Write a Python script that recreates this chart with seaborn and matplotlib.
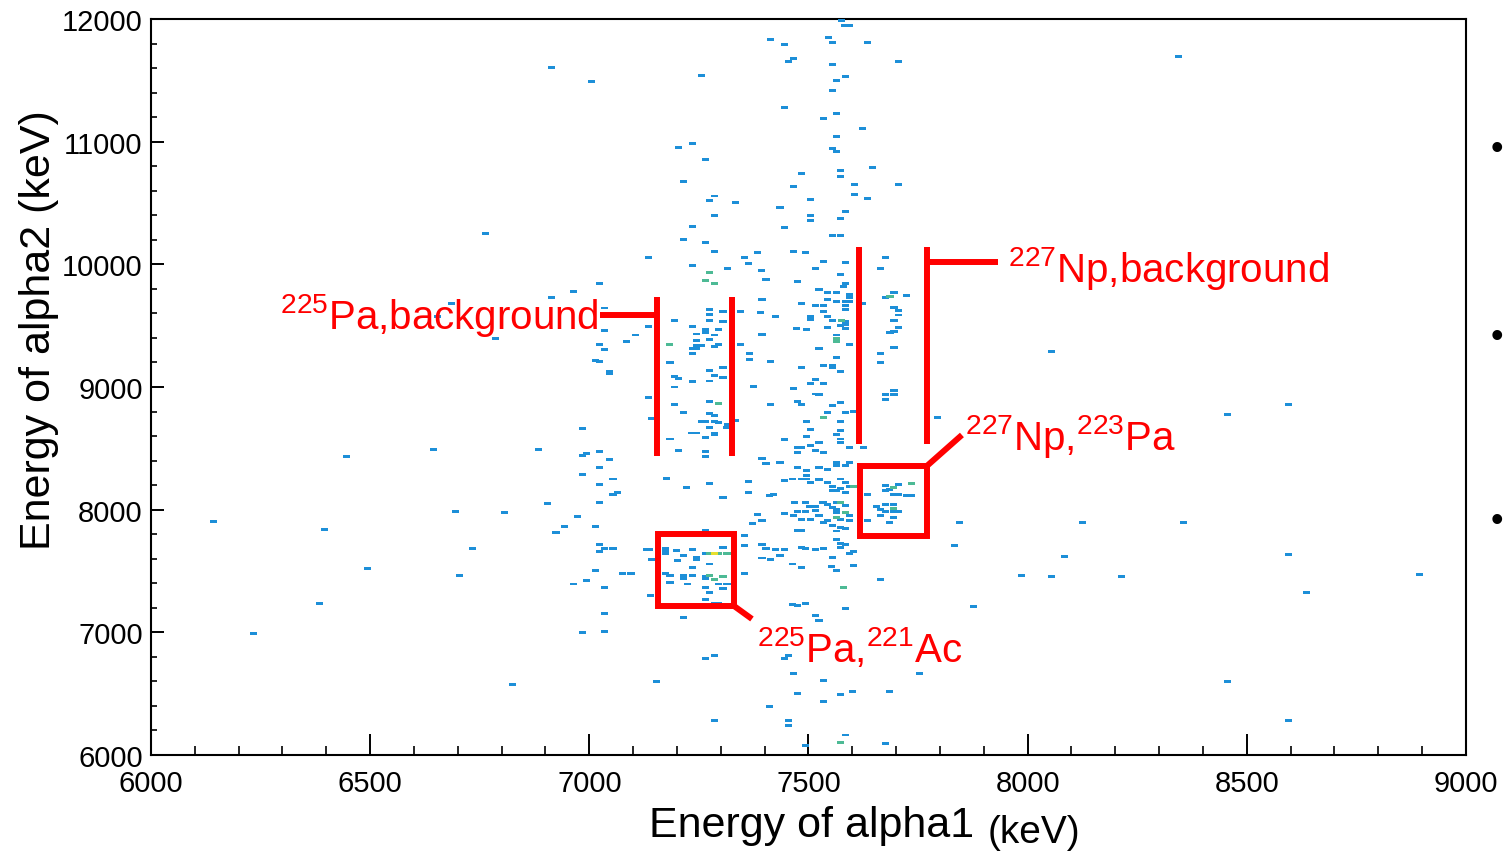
import numpy as np
import pandas as pd
import matplotlib
matplotlib.use("Agg")
import matplotlib.pyplot as plt
from matplotlib.ticker import MultipleLocator
from matplotlib.markers import MarkerStyle
from matplotlib.patches import Rectangle
import seaborn as sns

# ---------------- data: occupied histogram cells (keV) ----------------
# cells with one event (alpha1 energy, alpha2 energy)
one_e1 = [
    7575, 7583, 7594, 7414, 7445, 7545, 7555, 7634, 6914, 7004, 7255, 7455, 7465, 7555, 7705, 7564,
    7584, 7555, 7445, 7534, 7564, 7623, 7564, 7555, 7564, 7204, 7235, 7264, 7646, 7574, 7574, 7485,
    7215, 7465, 7604, 7705, 7604, 7634, 7285, 7274, 7334, 7505, 7435, 7584, 7285, 7505, 7505, 7574,
    7235, 7445, 7215, 7264, 7555, 7574, 7285, 7384, 7465, 7494, 7134, 7354, 7364, 7675, 7534, 7584,
    7235, 7315, 7515, 7665,
    6764, 6686, 6653, 6785, 6914,
    7024, 7045, 7024, 6984, 7024, 7054, 7065, 7054, 6984, 6994, 6984, 7045, 7045, 7014, 7024, 7024,
    7035, 7035, 7035, 7024, 6963, 7085, 7105, 7134, 7134, 7143, 7184, 7194, 7203, 7194, 7194, 7214,
    7184, 7203, 7264, 7264, 7275, 7275, 7285, 7264, 7255, 7285, 7295, 7315, 7334, 7313, 7275, 7285,
    7285, 7264, 7244, 7234, 7285, 7305, 7275, 7235, 7275, 7305, 7374, 7365, 7365, 7344, 7394, 7413,
    7425, 7391, 7394, 7344, 7305, 7275, 7275, 7275, 7305, 7194, 7235, 7264, 7264, 7295, 7285, 7245,
    7245, 7275, 7285, 7295, 7245, 7256, 7235, 7245, 7235, 7393, 7403, 7475, 7574, 7584, 7579, 7524,
    7544, 7564, 7594, 7594, 7544, 7584, 7564, 7594, 7584, 7584, 7484, 7515, 7534, 7534, 7544, 7554,
    7584, 7505, 7505, 7623, 7544, 7574, 7584, 7584, 7564, 7473, 7495, 7524, 7594, 7564, 7534, 7554,
    7554, 7574, 7485, 7665, 7665, 7675, 7695, 7695, 7705, 7705, 7695, 7705, 7695, 7686, 7724, 7695,
    7675, 7695, 7675, 7695, 7794, 7603, 7584, 7574, 7555, 7574, 7574, 7574, 7564, 7544, 7515, 7524,
    7534, 7505, 7515, 7475, 7485, 7465, 7413, 7495, 7505, 7495, 7445, 7475, 7485, 7505, 7515, 7534,
    7524, 7475, 7394, 7403, 7435, 7475, 7495, 7495, 7524, 7544, 7564, 7564, 7584, 7594, 7463, 7485,
    7495, 7505, 7524, 7544, 7554, 7574, 7584, 7574, 7584, 7594, 7564, 7554, 7445, 7364, 7364, 7410,
    7420, 7305, 7275, 7222, 7175, 7594, 7574, 7625,
    7024, 7469, 7494, 7564, 7564, 7533, 7544, 7554, 7564, 7584, 7503, 7515, 7515, 7494, 7475, 7465,
    7445, 7485, 7505, 7524, 7534, 7544, 7554, 7574, 7594, 7594, 7584, 7564, 7574, 7485, 7564, 7574,
    7574, 7584, 7554, 7594, 7603, 7553, 7564, 7603, 7463, 7485, 7494, 7515, 7534, 7483, 7424, 7445,
    7435, 7413, 7394, 7394, 7403, 7355, 7355, 7355, 7384, 7373, 7394, 7474,
    7173, 7173, 7173, 7199, 7214, 7235, 7244, 7244, 7264, 7305, 7202, 7275, 7235, 7173, 7184, 7214,
    7214, 7235, 7264, 7264, 7184, 7224, 7264, 7295, 7314, 7305, 7275, 7264, 7295, 7285,
    7138, 7143, 7140, 7130, 7035, 7054, 7024, 7024, 7014, 6994, 6963, 7035, 7075, 7095, 6973, 7014,
    6943, 6924, 7035, 7035, 6984, 7214, 7264, 7463, 7474, 7494, 7515, 7524, 7584, 7665, 7264, 7285,
    7445, 7454, 7465, 7534, 7475, 7534, 7574, 7601, 7685, 7754, 7412, 7154, 7285, 7454, 7454, 7584,
    7675, 7494,
    7675, 7685, 7705, 7675, 7694, 7705, 7724, 7734, 7634, 7655, 7665, 7675, 7705, 7665, 7694, 7685,
    7634, 7675, 7694, 7694,
    6143, 6234, 6385, 6395, 6445, 6494, 6644, 6695, 6704, 6733, 6806, 6825, 6885, 6904, 6924,
    8345, 8054, 8455, 8595, 7844, 7833, 8126, 8355, 8085, 7985, 8054, 8215, 8595, 8636, 8894, 7876,
    8455, 8595,
]
one_e2 = [
    11990, 11945, 11950, 11829, 11789, 11847, 11809, 11809, 11608, 11490, 11540, 11657, 11678, 11630, 11657, 11500,
    11530, 11418, 11276, 11187, 11228, 11108, 11046, 10948, 10918, 10956, 10989, 10856, 10788, 10766, 10717, 10739,
    10679, 10638, 10649, 10649, 10567, 10535, 10557, 10519, 10508, 10530, 10465, 10427, 10399, 10399, 10358, 10377,
    10306, 10298, 10206, 10176, 10236, 10236, 10105, 10095, 10105, 10095, 10058, 10058, 10006, 10058, 10025, 10017,
    9987, 9968, 9968, 9968,
    10248, 9677, 9576, 9397, 9729,
    8476, 8408, 8345, 8283, 8207, 8250, 8142, 8123, 8438, 8454, 8663, 9125, 9106, 9215, 9209, 9345,
    9304, 9457, 9644, 9840, 9777, 9370, 9424, 9497, 8916, 8745, 9196, 9087, 9068, 9000, 8856, 8796,
    8576, 8484, 8478, 8435, 8883, 8780, 8766, 8720, 8720, 8720, 8712, 8698, 8726, 8671, 8669, 8625,
    8612, 8585, 8625, 8625, 9093, 9074, 9049, 9046, 9133, 9155, 9008, 9275, 9228, 9345, 9427, 9209,
    9573, 9609, 9717, 9617, 9617, 9628, 9595, 9546, 9535, 9546, 9495, 9467, 9446, 9467, 9424, 9432,
    9378, 9391, 9334, 9345, 9337, 9337, 9310, 9310, 9277, 9946, 9875, 9859, 9919, 9845, 9818, 9793,
    9772, 9772, 9758, 9726, 9717, 9698, 9698, 9698, 9663, 9628, 9677, 9666, 9663, 9614, 9573, 9546,
    9533, 9573, 9554, 9677, 9486, 9500, 9511, 9478, 9424, 9478, 9467, 9310, 9345, 9239, 9174, 9174,
    9155, 9128, 9158, 9275, 9199, 9726, 9769, 9647, 9620, 9587, 9546, 9486, 9454, 9446, 9745, 9323,
    8938, 8938, 8897, 8973, 8753, 8802, 8794, 8875, 8848, 8718, 8644, 8576, 8614, 8794, 8943, 8938,
    9025, 9030, 9065, 8883, 8856, 8984, 8856, 8715, 8655, 8595, 8574, 8508, 8508, 8522, 8484, 8465,
    8546, 8465, 8421, 8378, 8386, 8340, 8318, 8277, 8340, 8326, 8386, 8359, 8359, 8386, 8250, 8250,
    8250, 8223, 8242, 8223, 8188, 8250, 8223, 8169, 8142, 8188, 8155, 8155, 8237, 8231, 8142, 8114,
    8123, 8101, 8215, 8182, 8253, 8506, 8549, 8506,
    8057, 8059, 8059, 8059, 7978, 8059, 8046, 8019, 8005, 8032, 8024, 8027, 7991, 7989, 7989, 7951,
    7972, 7923, 7923, 7951, 7896, 7913, 7874, 7923, 7951, 7910, 7850, 7826, 7853, 7828, 7760, 7728,
    7693, 7714, 7611, 7646, 7660, 7538, 7502, 7543, 7557, 7527, 7684, 7673, 7684, 7693, 7679, 7679,
    7625, 7597, 7606, 7714, 7684, 7793, 7706, 7483, 7961, 7888, 7915, 7828,
    7687, 7665, 7646, 7671, 7630, 7679, 7611, 7592, 7646, 7690, 7584, 7557, 7529, 7483, 7462, 7462,
    7440, 7462, 7453, 7440, 7407, 7394, 7366, 7394, 7394, 7358, 7326, 7271, 7239, 7239,
    7673, 7597, 7304, 7679, 7684, 7684, 7714, 7657, 7502, 7426, 7394, 7364, 7483, 7483, 7945, 7864,
    7864, 7815, 7155, 7010, 7002, 7122, 7834, 7225, 7217, 7233, 7141, 7095, 7195, 7434, 6790, 6810,
    6790, 6810, 6663, 6606, 6505, 6435, 6492, 6519, 6519, 6663, 6394, 6603, 6282, 6280, 6244, 6163,
    6090, 6076,
    8195, 8168, 8209, 8154, 8122, 8122, 8114, 8114, 8122, 8024, 8005, 7989, 7989, 7956, 7937, 7896,
    7915, 8046, 8046, 7989,
    7902, 6992, 7239, 7842, 8435, 7524, 8492, 7986, 7462, 7685, 7973, 6574, 8492, 8052, 7812,
    11693, 9290, 8777, 8855, 7897, 7705, 7897, 7897, 7617, 7467, 7459, 7459, 7635, 7328, 7474, 7212,
    6598, 6285,
]
# cells with two events
two_e1 = [7275, 7264, 7285, 7182, 7575, 7564, 7564, 7686, 7534, 7295, 7603,
          7275, 7295, 7314, 7275, 7285, 7305, 7564, 7584, 7574, 7580, 7574,
          7734, 7694, 7694]
two_e2 = [9935, 9867, 9840, 9345, 9546, 9397, 9370, 9736, 8753, 8867, 8188,
          7646, 7646, 7644, 7462, 7429, 7459, 7937, 7978, 8059, 7366, 6103,
          8214, 8178, 8010]
# cells with three events
three_e1 = [7285]
three_e2 = [7646]

count_colors = {1: "#1d8fd8", 2: "#4dba95", 3: "#e6df2e"}

df = pd.DataFrame({
    "alpha1": one_e1 + two_e1 + three_e1,
    "alpha2": one_e2 + two_e2 + three_e2,
    "counts": [1] * len(one_e1) + [2] * len(two_e1) + [3] * len(three_e1),
})

# ---------------- styling ----------------
sns.set_theme(style="white")
plt.rcParams["font.family"] = ["Liberation Sans", "DejaVu Sans"]
plt.rcParams["mathtext.fontset"] = "custom"
plt.rcParams["mathtext.rm"] = "Liberation Sans"
plt.rcParams["mathtext.it"] = "Liberation Sans"
plt.rcParams["mathtext.default"] = "regular"

fig = plt.figure(figsize=(15.04, 8.53), dpi=100)
fig.patch.set_facecolor("white")
ax = fig.add_axes([151 / 1504, 1 - 756 / 853, 1315 / 1504, 736 / 853])

dash = MarkerStyle([(-1, -0.42), (1, -0.42), (1, 0.42), (-1, 0.42), (-1, -0.42)])
sns.scatterplot(data=df, x="alpha1", y="alpha2", hue="counts", palette=count_colors,
                marker=dash, s=26, linewidth=0, legend=False, ax=ax, zorder=3)

ax.set_xlim(6000, 9000)
ax.set_ylim(6000, 12000)
ax.xaxis.set_major_locator(MultipleLocator(500))
ax.xaxis.set_minor_locator(MultipleLocator(100))
ax.yaxis.set_major_locator(MultipleLocator(1000))
ax.yaxis.set_minor_locator(MultipleLocator(200))
ax.tick_params(axis="x", which="major", direction="in", length=15, width=1.4,
               labelsize=21, pad=10, colors="black", bottom=True, top=False)
ax.tick_params(axis="x", which="minor", direction="in", length=6.5, width=1.4,
               bottom=True, top=False)
ax.tick_params(axis="y", which="major", direction="in", length=9, width=1.4,
               labelsize=21, pad=6, colors="black", left=True, right=False)
ax.tick_params(axis="y", which="minor", direction="in", length=4.5, width=1.4,
               left=True, right=False)
for sp in ax.spines.values():
    sp.set_visible(True)
    sp.set_color("black")
    sp.set_linewidth(1.5)
ax.grid(False)

ax.set_xlabel("Energy of alpha1", fontsize=31, va="center", color="black")
ax.xaxis.set_label_coords((812 - 151) / 1315, (756 - 826) / 736)
ax.text((1034 - 151) / 1315, (756 - 833) / 736, "(keV)", fontsize=28,
        ha="center", va="center", transform=ax.transAxes, color="black")
ax.set_ylabel("Energy of alpha2 (keV)", fontsize=31, va="center", color="black")
ax.yaxis.set_label_coords((39 - 151) / 1315, (756 - 330) / 736)

# ---------------- red annotations ----------------
red = "#ff0000"
lw = 4.3
# 225Pa gate lines + label
for xg in (7154, 7325):
    ax.plot([xg, xg], [8437, 9734], color=red, lw=lw, solid_capstyle="butt", zorder=5)
ax.plot([7024, 7154], [9587, 9587], color=red, lw=lw, solid_capstyle="butt", zorder=5)
ax.text(7022, 9481, r"$^{225}$Pa,background", color=red, fontsize=29,
        ha="right", va="baseline", zorder=6)
# 227Np gate lines + label
for xg in (7615, 7770):
    ax.plot([xg, xg], [8535, 10141], color=red, lw=lw, solid_capstyle="butt", zorder=5)
ax.plot([7770, 7932], [10019, 10019], color=red, lw=lw, solid_capstyle="butt", zorder=5)
ax.text(7955, 9864, r"$^{227}$Np,background", color=red, fontsize=29,
        ha="left", va="baseline", zorder=6)
# 225Pa-221Ac box
ax.add_patch(Rectangle((7157, 7215), 7330 - 7157, 7802 - 7215, fill=False,
                       edgecolor=red, lw=lw, joinstyle="miter", zorder=5))
ax.plot([7330, 7371], [7215, 7109], color=red, lw=lw, solid_capstyle="butt", zorder=5)
ax.text(7382, 6766, r"$^{225}$Pa,$^{221}$Ac", color=red, fontsize=29,
        ha="left", va="baseline", zorder=6)
# 227Np-223Pa box
ax.add_patch(Rectangle((7617, 7785), 7770 - 7617, 8356 - 7785, fill=False,
                       edgecolor=red, lw=lw, joinstyle="miter", zorder=5))
ax.plot([7770, 7850], [8356, 8609], color=red, lw=lw, solid_capstyle="butt", zorder=5)
ax.text(7857, 8494, r"$^{227}$Np,$^{223}$Pa", color=red, fontsize=29,
        ha="left", va="baseline", zorder=6)

# slide bullets at the right edge
for yb in (150, 337, 522):
    fig.text(1497 / 1504, 1 - yb / 853, "\u2022", fontsize=26, ha="center",
             va="center", color="black")

fig.savefig("out.png", dpi=100, facecolor="white")
